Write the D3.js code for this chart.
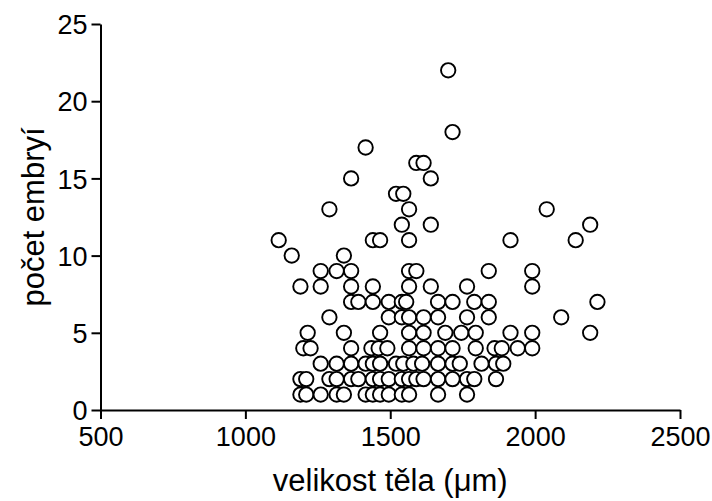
<!DOCTYPE html>
<html>
<head>
<meta charset="utf-8">
<script src="https://cdn.jsdelivr.net/npm/d3@7"></script>
<style>
  html, body { margin: 0; padding: 0; background: #fff; }
  svg { display: block; font-family: "Liberation Sans", Arial, sans-serif; }
</style>
</head>
<body>
<svg width="712" height="501"></svg>
<script>
  // x = body size (um), y = number of embryos
  const xTicks = [500, 1000, 1500, 2000, 2500]
  const yTicks = [0, 5, 10, 15, 20, 25]

  // each entry: embryo count, then the body sizes that had it
  const embryoCounts = [22, 18, 17, 16, 15, 14, 13, 12, 11, 10, 9, 8, 7, 6, 5, 4, 3, 2, 1]
  const bodySizes = [
    [1700],
    [1715],
    [1415],
    [1590, 1615],
    [1365, 1640],
    [1520, 1545],
    [1290, 1565, 2040],
    [1540, 1640, 2190],
    [1115, 1440, 1465, 1565, 1915, 2140],
    [1160, 1340],
    [1260, 1315, 1365, 1565, 1590, 1840, 1990],
    [1190, 1260, 1365, 1440, 1565, 1640, 1765, 1990],
    [1365, 1390, 1440, 1495, 1540, 1555, 1665, 1715, 1790, 1840, 2215],
    [1290, 1495, 1540, 1565, 1615, 1665, 1765, 1840, 2090],
    [1215, 1340, 1465, 1565, 1615, 1690, 1745, 1795, 1915, 1990, 2190],
    [1200, 1225, 1365, 1435, 1460, 1490, 1565, 1615, 1665, 1715, 1795, 1860, 1885, 1940, 1990],
    [1260, 1315, 1365, 1415, 1440, 1465, 1520, 1545, 1580, 1610, 1665, 1715, 1740, 1815, 1865, 1890],
    [1190, 1210, 1290, 1315, 1365, 1390, 1440, 1465, 1495, 1540, 1565, 1590, 1615, 1665, 1715, 1765, 1790, 1865],
    [1190, 1210, 1260, 1315, 1340, 1415, 1440, 1465, 1495, 1540, 1565, 1665, 1765]
  ]

  const points = []
  embryoCounts.forEach((c, i) => {
    bodySizes[i].forEach(s => points.push({ size: s, count: c }))
  })
  points.sort((a, b) => a.size - b.size)

  const svg = d3.select('svg')

  const x = d3.scaleLinear().domain([500, 2500]).range([100.5, 680])
  const y = d3.scaleLinear().domain([0, 25]).range([410, 24])

  svg.append('g').
    attr('transform', `translate(0,${y(0)})`).
    call(d3.axisBottom(x).tickValues(xTicks).tickFormat(d3.format('d')).
      tickSize(9).tickSizeOuter(0).tickPadding(8))

  const yAxis = svg.append('g').
    attr('transform', `translate(${x(500)},0)`).
    call(d3.axisLeft(y).tickValues(yTicks).tickFormat(d3.format('d')).
      tickSize(9).tickSizeOuter(0).tickPadding(4))

  svg.selectAll('.domain, .tick line').
    attr('stroke', '#000').
    attr('stroke-width', 2)

  svg.selectAll('.tick text').
    attr('fill', '#000').
    attr('font-size', 27).
    attr('font-family', '"Liberation Sans", Arial, sans-serif')

  yAxis.selectAll('.tick text').attr('dy', '0.36em')

  svg.append('g').selectAll('circle').data(points).
    enter().append('circle').
    attr('cx', d => x(d.size)).
    attr('cy', d => y(d.count)).
    attr('r', 7.2).
    attr('fill', '#fff').
    attr('stroke', '#000').
    attr('stroke-width', 1.9)

  svg.append('text').
    attr('x', (x.range()[0] + x.range()[1]) / 2).
    attr('y', 491).
    attr('text-anchor', 'middle').
    attr('font-size', 31).
    attr('fill', '#000').
    text('velikost těla (μm)')

  svg.append('text').
    attr('transform', `translate(44,${(y.range()[0] + y.range()[1]) / 2}) rotate(-90)`).
    attr('text-anchor', 'middle').
    attr('font-size', 31).
    attr('fill', '#000').
    text('počet embryí')
</script>
</body>
</html>
